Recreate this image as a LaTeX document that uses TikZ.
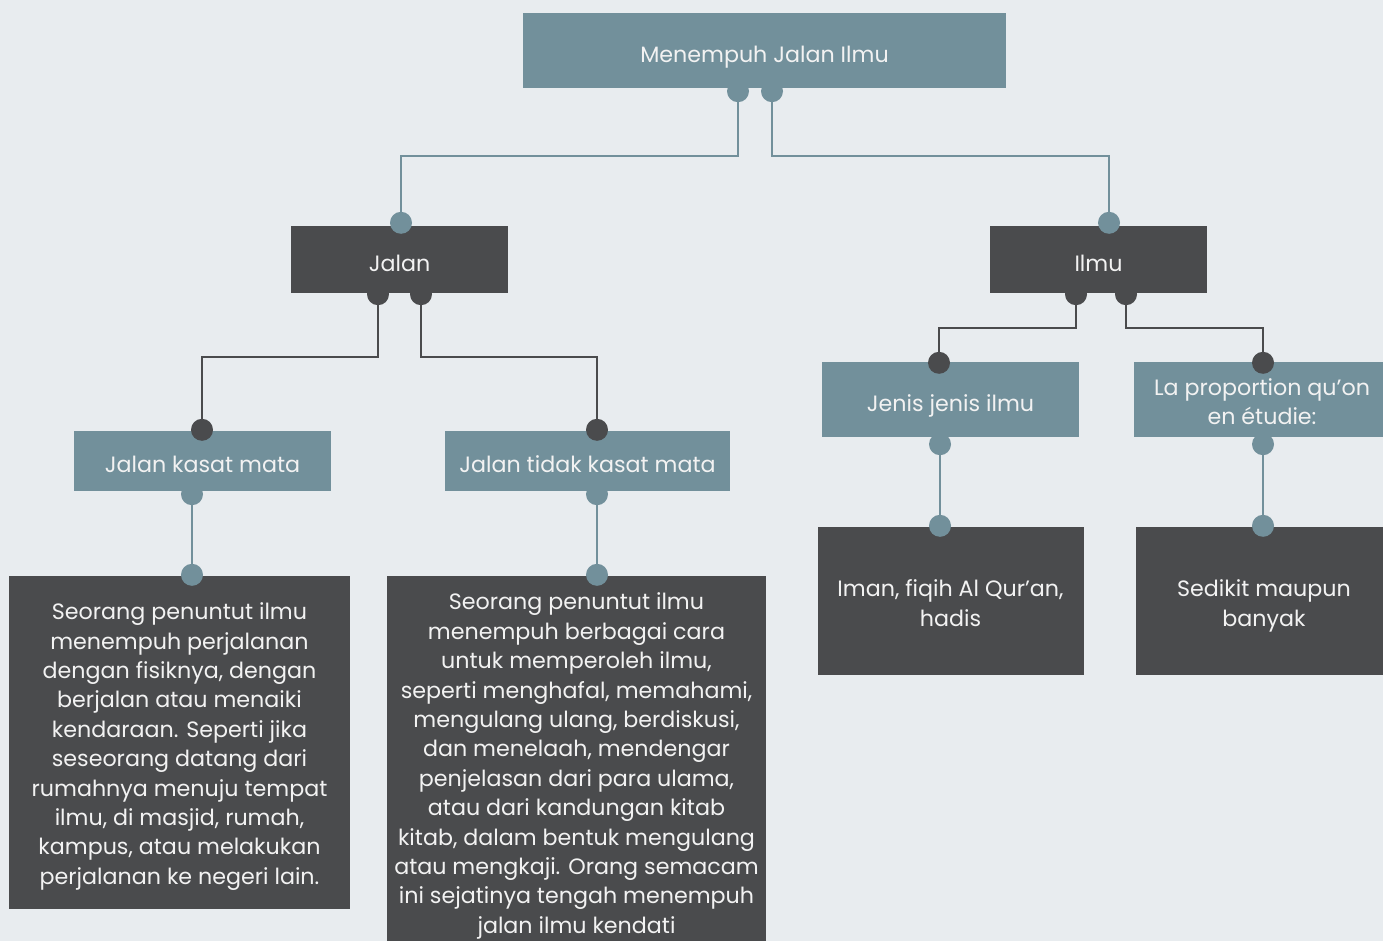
\documentclass[tikz,border=0pt]{standalone}
\usepackage{fontspec}
\setmainfont{Poppins}
\usetikzlibrary{calc}
\definecolor{bg}{HTML}{E8ECEF}
\definecolor{bluegray}{HTML}{72909B}
\definecolor{darkbox}{HTML}{4A4B4D}
\definecolor{txt}{HTML}{F2F2F2}
\tikzset{
  boxbase/.style={rectangle, inner sep=0pt},
  bluebox/.style={boxbase, fill=bluegray},
  darkbox/.style={boxbase, fill=darkbox},
  boxtext/.style={inner sep=0pt, text=txt, align=center, yshift=-4pt,
    font=\fontsize{22.2}{29.4}\selectfont,
    execute at begin node=\strut, execute at end node=\strut},
  bline/.style={draw=bluegray, line width=2pt},
  dline/.style={draw=darkbox, line width=2pt},
  bdot/.style={fill=bluegray},
  ddot/.style={fill=darkbox},
}
\begin{document}
\begin{tikzpicture}[x=1pt,y=-1pt]
\useasboundingbox (0,0) rectangle (1383,941);
\fill[bg] (0,0) rectangle (1383,941);

% boxes
\node[bluebox, minimum width=483pt, minimum height=75pt] (root) at (764.5,50.5) {};
\node[darkbox, minimum width=217pt, minimum height=67pt] (jalan) at (399.5,259.5) {};
\node[darkbox, minimum width=217pt, minimum height=67pt] (ilmu) at (1098.5,259.5) {};
\node[bluebox, minimum width=257pt, minimum height=60pt] (jkm) at (202.5,461) {};
\node[bluebox, minimum width=285pt, minimum height=60pt] (jtkm) at (587.5,461) {};
\node[bluebox, minimum width=257pt, minimum height=75pt] (jenis) at (950.5,399.5) {};
\node[bluebox, minimum width=249pt, minimum height=75pt] (prop) at (1258.5,399.5) {};
\node[darkbox, minimum width=341pt, minimum height=333pt] (t1) at (179.5,742.5) {};
\node[darkbox, minimum width=379pt, minimum height=366pt] (t2) at (576.5,759) {};
\node[darkbox, minimum width=266pt, minimum height=148pt] (iman) at (951,601) {};
\node[darkbox, minimum width=247pt, minimum height=148pt] (sedikit) at (1259.5,601) {};

% texts
\node[boxtext] (rootT) at (764.5,53) {Menempuh Jalan Ilmu};
\node[boxtext] (jalanT) at (399.5,262) {Jalan};
\node[boxtext] (ilmuT) at (1098.5,262) {Ilmu};
\node[boxtext] (jkmTx) at (202.5,463) {Jalan kasat mata};
\node[boxtext] (jtkmTx) at (587.5,463) {Jalan tidak kasat mata};
\node[boxtext] (jenisTx) at (950.5,402) {Jenis jenis ilmu};
\node[boxtext] (propTx) at (1262,402) {La proportion qu’on\\en étudie:};
\node[boxtext] (t1txt) at (179.5,744) {Seorang penuntut ilmu\\menempuh perjalanan\\dengan fisiknya, dengan\\berjalan atau menaiki\\kendaraan. Seperti jika\\seseorang datang dari\\rumahnya menuju tempat\\ilmu, di masjid, rumah,\\kampus, atau melakukan\\perjalanan ke negeri lain.};
\node[boxtext] (t2txt) at (576.5,763.5) {Seorang penuntut ilmu\\menempuh berbagai cara\\untuk memperoleh ilmu,\\seperti menghafal, memahami,\\mengulang ulang, berdiskusi,\\dan menelaah, mendengar\\penjelasan dari para ulama,\\atau dari kandungan kitab\\kitab, dalam bentuk mengulang\\atau mengkaji. Orang semacam\\ini sejatinya tengah menempuh\\jalan ilmu kendati};
\node[boxtext] (imanTx) at (950.5,603.5) {Iman, fiqih Al Qur’an,\\hadis};
\node[boxtext] (sedikitTx) at (1264,603.5) {Sedikit maupun\\banyak};

% connector end points
\coordinate (r1) at ($(root.south)+(-26.5,3)$);
\coordinate (r2) at ($(root.south)+(7.5,3)$);
\coordinate (ja) at ($(jalan.north)+(1.5,-3)$);
\coordinate (il) at ($(ilmu.north)+(10.5,-3)$);
\coordinate (ja1) at ($(jalan.south)+(-21.5,1)$);
\coordinate (ja2) at ($(jalan.south)+(21.5,1)$);
\coordinate (jkmT) at ($(jkm.north)+(-0.5,-1)$);
\coordinate (jtkmT) at ($(jtkm.north)+(9.5,-1)$);
\coordinate (il1) at ($(ilmu.south)+(-22.5,1)$);
\coordinate (il2) at ($(ilmu.south)+(27.5,1)$);
\coordinate (jenisT) at ($(jenis.north)+(-11.5,1)$);
\coordinate (propT) at ($(prop.north)+(4.5,1)$);
\coordinate (jkmB) at ($(jkm.south)+(-10.5,3)$);
\coordinate (jtkmB) at ($(jtkm.south)+(9.5,3)$);
\coordinate (t1T) at ($(t1.north)+(12.5,-1)$);
\coordinate (t2T) at ($(t2.north)+(20.5,-1)$);
\coordinate (jenisB) at ($(jenis.south)+(-10.5,7)$);
\coordinate (propB) at ($(prop.south)+(4.5,7)$);
\coordinate (imanT) at ($(iman.north)+(-11,-1)$);
\coordinate (sedikitT) at ($(sedikit.north)+(3.5,-1)$);

% connectors
\draw[bline] (r1) |- (401,156) -- (ja);
\draw[bline] (r2) |- (1109,156) -- (il);
\draw[dline] (ja1) |- (202,357) -- (jkmT);
\draw[dline] (ja2) |- (597,357) -- (jtkmT);
\draw[dline] (il1) |- (939,328) -- (jenisT);
\draw[dline] (il2) |- (1263,328) -- (propT);
\draw[bline] (jkmB) -- (t1T);
\draw[bline] (jtkmB) -- (t2T);
\draw[bline] (jenisB) -- (imanT);
\draw[bline] (propB) -- (sedikitT);

% dots
\foreach \p in {r1,r2,ja,il,jkmB,jtkmB,t1T,t2T,jenisB,propB,imanT,sedikitT}
  \fill[bdot] (\p) circle (11pt);
\foreach \p in {ja1,ja2,jkmT,jtkmT,il1,il2,jenisT,propT}
  \fill[ddot] (\p) circle (11pt);
\end{tikzpicture}
\end{document}
